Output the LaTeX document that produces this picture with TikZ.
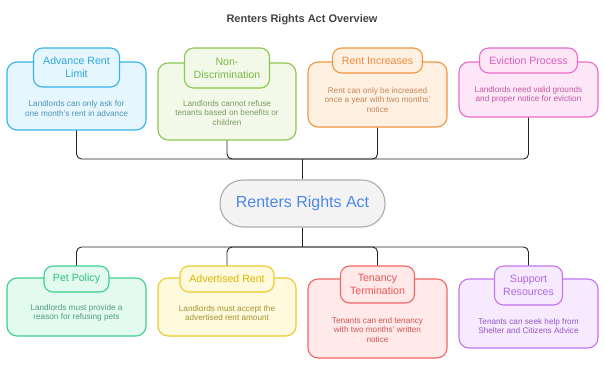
\documentclass[tikz,border=0pt]{standalone}
\usepackage{fontspec}
\setmainfont{Liberation Sans}
\definecolor{bluD}{HTML}{35B2EC}\definecolor{bluF}{HTML}{E6F6FE}\definecolor{bluT}{HTML}{2BA7E2}\definecolor{bluB}{HTML}{4A93B4}
\definecolor{grnD}{HTML}{8CC64E}\definecolor{grnF}{HTML}{F2F9E8}\definecolor{grnT}{HTML}{7DB847}\definecolor{grnB}{HTML}{7C9A62}
\definecolor{orgD}{HTML}{F2963E}\definecolor{orgF}{HTML}{FFF1E2}\definecolor{orgT}{HTML}{F0893A}\definecolor{orgB}{HTML}{C48559}
\definecolor{pnkD}{HTML}{E86CC9}\definecolor{pnkF}{HTML}{FDE7F7}\definecolor{pnkT}{HTML}{E05AC0}\definecolor{pnkB}{HTML}{C455A6}
\definecolor{tlD}{HTML}{3DD08C}\definecolor{tlF}{HTML}{E2FAEF}\definecolor{tlT}{HTML}{2FC07C}\definecolor{tlB}{HTML}{529E78}
\definecolor{ylwD}{HTML}{EBCB2C}\definecolor{ylwF}{HTML}{FFF9DD}\definecolor{ylwT}{HTML}{DDB502}\definecolor{ylwB}{HTML}{A4952E}
\definecolor{redD}{HTML}{F06666}\definecolor{redF}{HTML}{FFE9E9}\definecolor{redT}{HTML}{EE5555}\definecolor{redB}{HTML}{D05656}
\definecolor{purD}{HTML}{C274F0}\definecolor{purF}{HTML}{F7EAFE}\definecolor{purT}{HTML}{B064E6}\definecolor{purB}{HTML}{9456C2}
\definecolor{cenD}{HTML}{ADADAD}\definecolor{cenF}{HTML}{F3F3F3}\definecolor{cenT}{HTML}{4E88E8}
\definecolor{ttl}{HTML}{444444}\definecolor{lnk}{HTML}{222222}
\tikzset{
  outerbox/.style={draw=#1D, fill=#1F, line width=1.1pt, rounded corners=10pt, inner sep=0pt},
  tagbox/.style={draw=#1D, fill=#1F, line width=1.1pt, rounded corners=9pt, inner sep=0pt, text=#1T, align=center, font=\fontsize{10.6}{13}\selectfont},
  bodytext/.style={text=#1B, align=center, inner sep=0pt, font=\fontsize{8.2}{9.7}\selectfont},
  link/.style={draw=lnk, line width=0.9pt, rounded corners=5pt},
}
\begin{document}
\begin{tikzpicture}[x=1pt,y=-1pt]
\useasboundingbox (0,0) rectangle (604,364);
\node[font=\bfseries\fontsize{11}{13}\selectfont, text=ttl] (title) at (302,20) {Renters Rights Act Overview};
% top row
\node[outerbox=blu, minimum width=139pt, minimum height=68pt] (b1) at (76.5,96) {};
\node[tagbox=blu, minimum width=86pt, minimum height=39pt] (t1) at (76.5,67.5) {Advance Rent\\Limit};
\node[bodytext=blu] (d1) at (76.5,108.5) {Landlords can only ask for\\one month's rent in advance};
\node[outerbox=grn, minimum width=138pt, minimum height=77pt] (b2) at (227,101.5) {};
\node[tagbox=grn, minimum width=85pt, minimum height=40pt] (t2) at (227,68) {Non-\\Discrimination};
\node[bodytext=grn] (d2) at (227,113) {Landlords cannot refuse\\tenants based on benefits or\\children};
\node[outerbox=org, minimum width=139pt, minimum height=65pt] (b3) at (377.5,94.5) {};
\node[tagbox=org, minimum width=90pt, minimum height=25pt] (t3) at (377.5,60.5) {Rent Increases};
\node[bodytext=org] (d3) at (377.5,100) {Rent can only be increased\\once a year with two months'\\notice};
\node[outerbox=pnk, minimum width=139pt, minimum height=55pt] (b4) at (528.5,89.5) {};
\node[tagbox=pnk, minimum width=98pt, minimum height=25pt] (t4) at (528.5,60.5) {Eviction Process};
\node[bodytext=pnk] (d4) at (528.5,95) {Landlords need valid grounds\\and proper notice for eviction};
% center
\node[draw=cenD, fill=cenF, line width=1.1pt, rounded corners=23pt, minimum width=165pt, minimum height=47pt, text=cenT, font=\fontsize{16}{19}\selectfont, inner sep=0pt] (c) at (302.5,203.5) {Renters Rights Act};
% bottom row
\node[outerbox=tl, minimum width=139pt, minimum height=58pt] (b5) at (76.5,307) {};
\node[tagbox=tl, minimum width=65pt, minimum height=26pt] (t5) at (76.5,279) {Pet Policy};
\node[bodytext=tl] (d5) at (76.5,313) {Landlords must provide a\\reason for refusing pets};
\node[outerbox=ylw, minimum width=138pt, minimum height=58pt] (b6) at (227,307) {};
\node[tagbox=ylw, minimum width=94pt, minimum height=26pt] (t6) at (227,279) {Advertised Rent};
\node[bodytext=ylw] (d6) at (227,313) {Landlords must accept the\\advertised rent amount};
\node[outerbox=red, minimum width=139pt, minimum height=79pt] (b7) at (377.5,318.5) {};
\node[tagbox=red, minimum width=74pt, minimum height=37pt] (t7) at (377.5,284.5) {Tenancy\\Termination};
\node[bodytext=red] (d7) at (377.5,330) {Tenants can end tenancy\\with two months' written\\notice};
\node[outerbox=pur, minimum width=139pt, minimum height=69pt] (b8) at (528.5,313.5) {};
\node[tagbox=pur, minimum width=68pt, minimum height=39pt] (t8) at (528.5,285.5) {Support\\Resources};
\node[bodytext=pur] (d8) at (528.5,326) {Tenants can seek help from\\Shelter and Citizens Advice};
% connectors
\coordinate (jt) at (302.5,159);
\coordinate (jb) at (302.5,247);
\draw[link] (c.north) -- (jt);
\draw[link] (c.south) -- (jb);
\foreach \b in {b1,b2,b3,b4} \draw[link] (\b.south) |- (jt);
\foreach \t in {t5,t6,t7,t8} \draw[link] (\t.north) |- (jb);
\end{tikzpicture}
\end{document}
